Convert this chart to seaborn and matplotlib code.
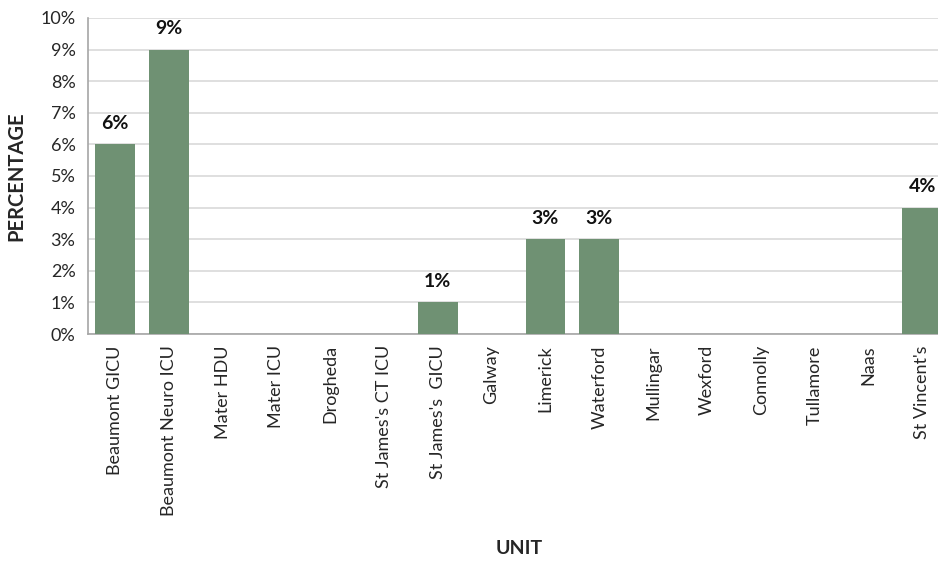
import matplotlib.pyplot as plt
import numpy as np
import pandas as pd
import seaborn as sns

units = [
    "Beaumont GICU", "Beaumont Neuro ICU", "Mater HDU", "Mater ICU",
    "Drogheda", "St James's CT ICU", "St James's  GICU", "Galway",
    "Limerick", "Waterford", "Mullingar", "Wexford", "Connolly",
    "Tullamore", "Naas", "St Vincent's"
]
percentages = [6, 9, 0, 0, 0, 0, 1, 0, 3, 3, 0, 0, 0, 0, 0, 4]
y_ticks = list(range(0, 11))

df = pd.DataFrame({"Unit": units, "Percentage": percentages})

sns.set_style("white")
plt.rcParams['font.family'] = ['Lato', 'DejaVu Sans']

fig = plt.figure(figsize=(9.38, 5.61), dpi=100)
ax = fig.add_axes([0.0938, 0.4046, 0.918, 0.5634])

sns.barplot(data=df, x="Unit", y="Percentage", color="#6f9173",
            saturation=1, width=0.74, linewidth=0, ax=ax, zorder=3)

ax.set_ylim(0, 10)
ax.set_xlim(-0.5, len(units) - 0.5)
ax.set_yticks(y_ticks)
ax.set_yticklabels([f"{t}%" for t in y_ticks], fontsize=13,
                   color='#262626')
ax.yaxis.grid(True, color='#d9d9d9', linewidth=1.2, zorder=0)
ax.set_axisbelow(True)

ax.set_xticks(range(len(units)))
ax.set_xticklabels(units, rotation=90, fontsize=13, color='#262626')
ax.set_xticks(np.arange(-0.5, len(units), 1), minor=True)
ax.tick_params(axis='x', which='major', length=0, pad=8)
ax.tick_params(axis='x', which='minor', length=6, width=1.2,
               color='#a6a6a6', direction='out')
ax.tick_params(axis='y', length=6, width=1.2, color='#a6a6a6',
               direction='out', pad=3)

for side in ['top', 'right']:
    ax.spines[side].set_visible(False)
for side in ['left', 'bottom']:
    ax.spines[side].set_color('#a6a6a6')
    ax.spines[side].set_linewidth(1.2)

for i, v in enumerate(percentages):
    if v > 0:
        ax.text(i, v + 0.4, f"{v}%", ha='center', va='bottom',
                fontsize=14, fontweight='bold', color='#111111')

ax.set_ylabel("PERCENTAGE", fontsize=14.5, fontweight='bold', labelpad=10)
ax.set_xlabel("")
fig.text(0.553, 0.022, "UNIT", ha='center', va='center', fontsize=14,
         fontweight='bold')

fig.savefig("out.png", dpi=100)
